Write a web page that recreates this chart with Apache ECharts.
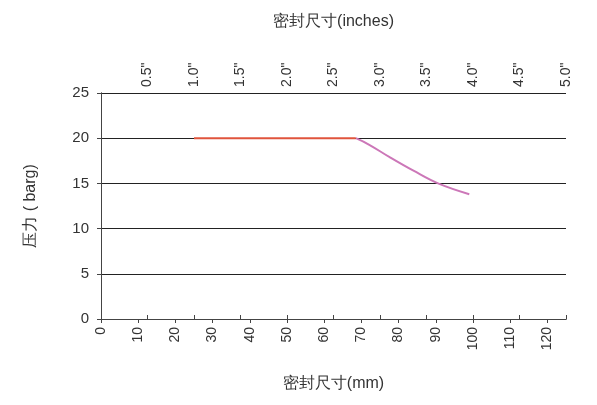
<!DOCTYPE html>
<html>
<head>
<meta charset="utf-8">
<script src="https://cdn.jsdelivr.net/npm/echarts@6/dist/echarts.min.js"></script>
<style>html,body{margin:0;background:#fff}#main{width:597px;height:405px}</style>
</head>
<body>
<div id="main"></div>
<script>
// data, mm on x, barg on y
var flatLine = [[25, 20], [68.5, 20]];
var curveLine = [[68.5, 20], [72, 19.3], [77.6, 17.9], [84, 16.4], [90.6, 15.0], [99, 13.8]];
var mmTicks = [0, 125, 10];
var inchTicks = [0, 5, 0.5];

var font = 'Liberation Sans, Arial, sans-serif';
var chart = echarts.init(document.getElementById('main'));
chart.setOption({
  animation: false,
  grid: { left: 101, right: 31, top: 93, bottom: 86 },
  xAxis: [{
    type: 'value', position: 'bottom', min: mmTicks[0], max: mmTicks[1], interval: mmTicks[2],
    name: '密封尺寸(mm)', nameLocation: 'middle', nameGap: 57,
    nameTextStyle: { fontSize: 16, color: '#333', fontFamily: font },
    axisLine: { onZero: false, lineStyle: { color: '#444' } },
    axisTick: { length: 4, lineStyle: { color: '#444' } },
    axisLabel: { rotate: 90, fontSize: 14, color: '#333', fontFamily: font, showMaxLabel: false },
    splitLine: { show: false }
  }, {
    type: 'value', position: 'top', min: inchTicks[0], max: inchTicks[1], interval: inchTicks[2],
    name: '密封尺寸(inches)', nameLocation: 'middle', nameGap: 63,
    nameTextStyle: { fontSize: 16, color: '#333', fontFamily: font },
    axisLine: { lineStyle: { color: '#444' } },
    axisTick: { length: 4, lineStyle: { color: '#444' } },
    axisLabel: { rotate: 90, fontSize: 14, color: '#333', fontFamily: font, showMinLabel: false, margin: 6,
      formatter: function (v) { return v.toFixed(1) + '"'; } },
    splitLine: { show: false }
  }],
  yAxis: [{
    type: 'value', min: 0, max: 25, interval: 5,
    name: '压力 ( barg)', nameLocation: 'middle', nameGap: 62,
    nameTextStyle: { fontSize: 16, color: '#333', fontFamily: font },
    axisLine: { show: true, lineStyle: { color: '#444' } },
    axisTick: { show: true, length: 4, lineStyle: { color: '#444' } },
    axisLabel: { fontSize: 15, color: '#333', fontFamily: font, margin: 12 },
    splitLine: { lineStyle: { color: '#222', width: 1 } }
  }, {
    type: 'value', min: 0, max: 25, interval: 5, position: 'right',
    axisLine: { show: true, lineStyle: { color: '#444' } },
    axisTick: { show: false }, axisLabel: { show: false }, splitLine: { show: false }
  }],
  series: [{
    type: 'line', data: flatLine, symbol: 'none',
    lineStyle: { color: '#e0543c', width: 2 }, z: 3
  }, {
    type: 'line', data: curveLine, symbol: 'none', smooth: 0.4,
    lineStyle: { color: '#cc77b8', width: 2 }, z: 2
  }]
});
</script>
</body>
</html>
